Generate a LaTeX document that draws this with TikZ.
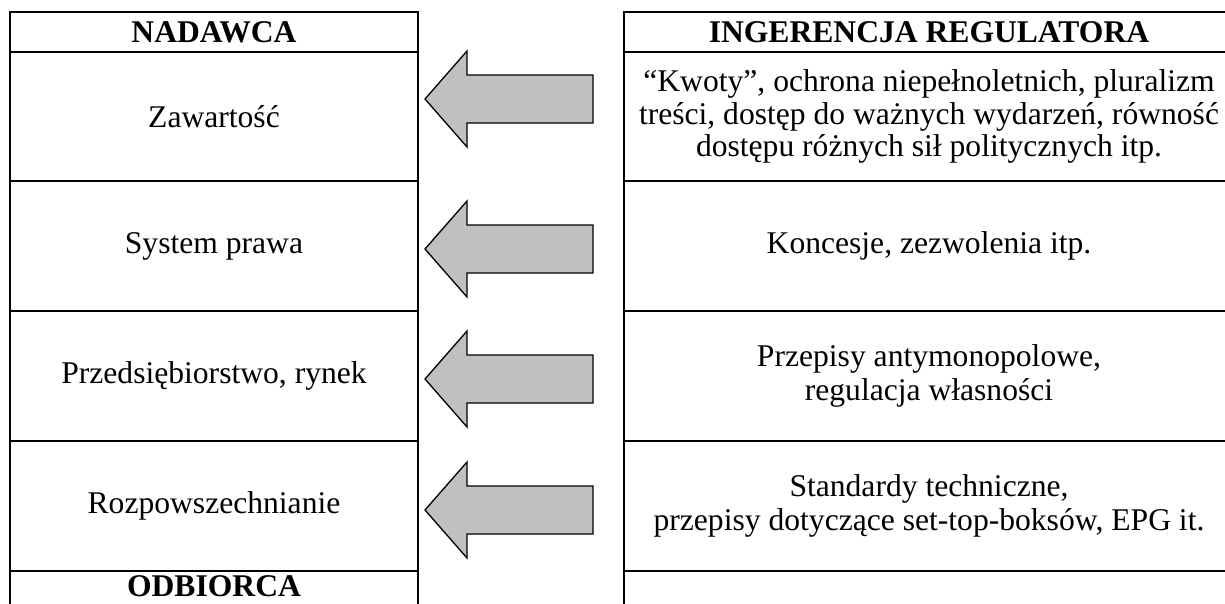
\documentclass[tikz,border=0pt]{standalone}
\usepackage{fontspec}
\setmainfont{Liberation Serif}
\definecolor{arrowgray}{RGB}{192,192,192}
\tikzset{
  cell/.style={draw, line width=2pt, inner sep=0pt, align=center,
    font=\fontsize{31.6}{34.5}\selectfont},
  leftcell/.style={cell, minimum width=408pt},
  rightcell/.style={cell, minimum width=610pt},
  blockarrow/.style={draw, line width=1.3pt, fill=arrowgray, line join=miter}
}
\begin{document}
\begin{tikzpicture}[x=1pt,y=-1pt]
\useasboundingbox (0,0) rectangle (1225,603);
\clip (0,0) rectangle (1225,603);
% left column
\node[leftcell, minimum height=40pt]  (nad) at (214,32)    {\bfseries NADAWCA};
\node[leftcell, minimum height=129pt] (zaw) at (214,116.5) {Zawartość};
\node[leftcell, minimum height=130pt] (sys) at (214,246)   {System prawa};
\node[leftcell, minimum height=130pt] (prz) at (214,376)   {Przedsiębiorstwo, rynek};
\node[leftcell, minimum height=130pt] (roz) at (214,506)   {Rozpowszechnianie};
\node[leftcell, text height=25pt, text depth=11pt, minimum height=36pt] (odb) at (214,589) {\bfseries ODBIORCA};
% right column
\node[rightcell, minimum height=40pt]  (ing) at (929,32)    {\bfseries INGERENCJA REGULATORA};
\node[rightcell, minimum height=129pt, font=\fontsize{31.6}{32.5}\selectfont] (kwo) at (929,116.5)
  {“Kwoty”, ochrona niepełnoletnich, pluralizm\\treści, dostęp do ważnych wydarzeń, równość\\dostępu różnych sił politycznych itp.};
\node[rightcell, minimum height=130pt] (kon) at (929,246)   {Koncesje, zezwolenia itp.};
\node[rightcell, minimum height=130pt] (ant) at (929,376)   {Przepisy antymonopolowe,\\regulacja własności};
\node[rightcell, minimum height=130pt] (sta) at (929,506)   {Standardy techniczne,\\przepisy dotyczące set-top-boksów, EPG it.};
\node[rightcell, minimum height=36pt]  (emp) at (929,589)   {};
% block arrows
\foreach \y in {99,249,379,510}
  \draw[blockarrow] (593,\y-24) -- (467,\y-24) -- (467,\y-48) -- (425,\y)
    -- (467,\y+48) -- (467,\y+24) -- (593,\y+24) -- cycle;
\end{tikzpicture}
\end{document}
